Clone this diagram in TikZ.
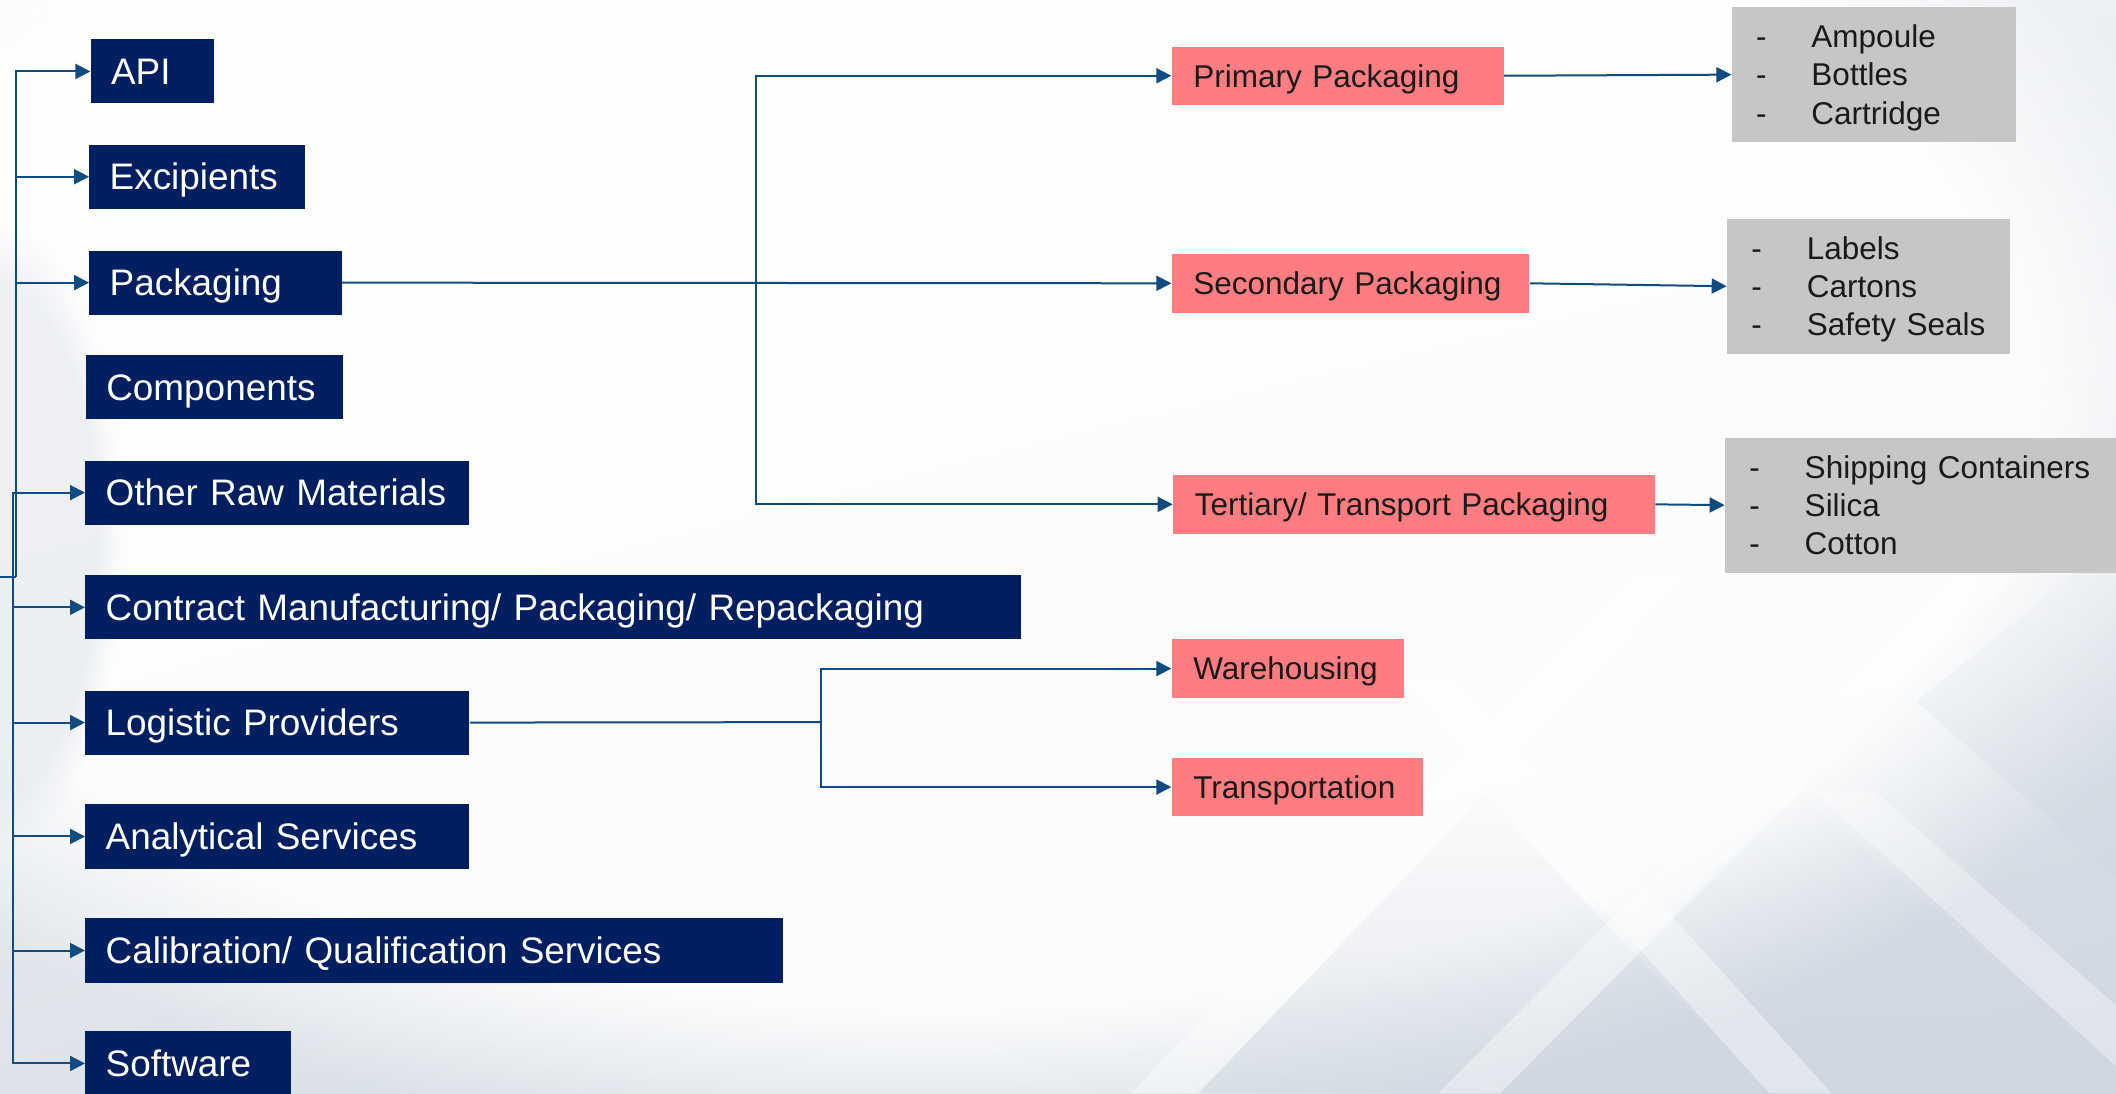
\documentclass[tikz,border=0pt]{standalone}
\usepackage{fontspec}
\setmainfont{Liberation Sans}
\usetikzlibrary{arrows.meta,fadings,shadings}
\hyphenpenalty=10000
\exhyphenpenalty=10000

\definecolor{navy}{RGB}{0,31,96}
\definecolor{salmon}{RGB}{255,124,128}
\definecolor{listgray}{RGB}{198,198,198}
\definecolor{wire}{RGB}{16,76,128}
\definecolor{ink}{RGB}{26,26,26}
\definecolor{bgTL}{RGB}{248,249,251}
\definecolor{bgTR}{RGB}{236,239,243}
\definecolor{bgBL}{RGB}{222,227,233}
\definecolor{bgBR}{RGB}{206,214,224}

% opaque at the bottom, clear at the top
\tikzfading[name=riseup, top color=transparent!100, bottom color=transparent!0]

% one list entry: a dash, then the item
\newcommand\listitem[1]{\makebox[27.7pt][l]{-}#1}

\tikzset{
  conn/.style={draw=wire, line width=1pt},
  arr/.style={conn, -{Triangle[length=7.5pt,width=7.5pt]}},
  boxbase/.style={anchor=north west, inner ysep=0pt, align=left},
  mainbox/.style={boxbase, fill=navy, text=white,
    font=\fontsize{18.45}{22}\selectfont,
    inner xsep=10.12pt, minimum height=32.05pt,
    text height=13.2pt, text depth=0pt,
    /utils/exec={\pgfmathsetlengthmacro\boxtw{#1*0.6748pt-20.24pt}},
    text width=\boxtw},
  pinkbox/.style={boxbase, fill=salmon, text=ink,
    font=\fontsize{15.75}{19.1}\selectfont,
    inner xsep=10.8pt, minimum height=29.2pt,
    text height=11.3pt, text depth=0pt,
    /utils/exec={\pgfmathsetlengthmacro\boxtw{#1*0.6748pt-21.6pt}},
    text width=\boxtw},
  listbox/.style={boxbase, fill=listgray, text=ink,
    font=\fontsize{15.75}{19.1}\selectfont,
    inner xsep=12.15pt, minimum height=67.5pt,
    text height=11.3pt, text depth=38.2pt,
    /utils/exec={\pgfmathsetlengthmacro\boxtw{#1*0.6748pt-24.3pt}},
    text width=\boxtw},
}

\begin{document}
\begin{tikzpicture}[x=0.6748pt, y=-0.6748pt]
\useasboundingbox (0,0) rectangle (1568,810);
\clip (0,0) rectangle (1568,810);

% ---- background: soft grey gradient with light diagonal glass streaks
\shade[upper left=bgTL, upper right=bgTR, lower left=bgBL, lower right=bgBR]
  (0,0) rectangle (1568,810);
\fill[white, opacity=0.9, path fading=circle with fuzzy edge 20 percent]
  (700,300) ellipse (1000 and 560);
\fill[bgBL, opacity=0.5, path fading=circle with fuzzy edge 20 percent]
  (0,400) ellipse (90 and 230);
\fill[bgBR, opacity=0.5, path fading=riseup] (888,810) -- (1099,590) -- (1311,810) -- cycle;
\fill[bgBR, opacity=0.45, path fading=riseup] (1112,810) -- (1330,585) -- (1568,790) -- (1568,810) -- cycle;
\fill[bgBR, opacity=0.35, path fading=riseup] (1420,520) -- (1568,400) -- (1568,650) -- cycle;
\fill[white, opacity=0.4] (838,810) -- (888,810) -- (1258,423) -- (1208,423) -- cycle;
\fill[white, opacity=0.4] (1066,810) -- (1112,810) -- (1496,423) -- (1450,423) -- cycle;
\fill[white, opacity=0.4] (1032,500) -- (1078,500) -- (1357,810) -- (1311,810) -- cycle;
\fill[white, opacity=0.35] (1345,587) -- (1390,587) -- (1568,745) -- (1568,790) -- cycle;

% ---- categories
\node[mainbox=91.5]  (api) at (67,28.9)   {API};
\node[mainbox=160]   (exc) at (66,106.9)  {Excipients};
\node[mainbox=187]   (pkg) at (66,185.4)  {Packaging};
\node[mainbox=190]   (cmp) at (63.5,263)  {Components};
\node[mainbox=284.5] (orm) at (63,341)    {Other Raw Materials};
\node[mainbox=693.5] (cmo) at (63,426)    {Contract Manufacturing/ Packaging/ Repackaging};
\node[mainbox=284.5] (lgp) at (63,511.4)  {Logistic Providers};
\node[mainbox=284.5] (ans) at (63,595.8)  {Analytical Services};
\node[mainbox=517]   (cal) at (63,680.3)  {Calibration/ Qualification Services};
\node[mainbox=152.5] (sfw) at (63,764)    {Software};

% ---- packaging levels and logistics
\node[pinkbox=246] (pri) at (868,34.2)  {Primary Packaging};
\node[pinkbox=265] (sec) at (868,188)   {Secondary Packaging};
\node[pinkbox=357] (ter) at (869,351.8) {Tertiary/ Transport Packaging};
\node[pinkbox=172] (whs) at (868,473.5) {Warehousing};
\node[pinkbox=186] (trn) at (868,561.3) {Transportation};

% ---- examples
\node[listbox=210.5] (ex1) at (1283,5)
  {\listitem{Ampoule}\\\listitem{Bottles}\\\listitem{Cartridge}};
\node[listbox=210]   (ex2) at (1279.5,161.8)
  {\listitem{Labels}\\\listitem{Cartons}\\\listitem{Safety~Seals}};
\node[listbox=289.5] (ex3) at (1278,324)
  {\listitem{Shipping~Containers}\\\listitem{Silica}\\\listitem{Cotton}};

% ---- left bus
\coordinate (in)  at (0,427.5);
\coordinate (bus) at (11.5,427.5);
\coordinate (low) at (10,427.5);
\draw[conn] (in) -- (bus);
\draw[arr] (bus) |- (api.west);
\draw[arr] (bus) |- (exc.west);
\draw[arr] (bus) |- (pkg.west);
\draw[arr] (low) |- (orm.west);
\draw[arr] (low) |- (cmo.west);
\draw[arr] (low) |- (lgp.west);
\draw[arr] (low) |- (ans.west);
\draw[arr] (low) |- (cal.west);
\draw[arr] (low) |- (sfw.west);

% ---- packaging branches
\coordinate (pb) at (560,209.2);
\draw[arr] (pkg.east) -- (sec.west);
\draw[arr] (pb) |- (pri.west);
\draw[arr] (pb) |- (ter.west);

% ---- logistics branches
\coordinate (lb) at (608,535.1);
\draw[conn] (lgp.east) -- (lb);
\draw[arr] (lb) |- (whs.west);
\draw[arr] (lb) |- (trn.west);

% ---- examples
\draw[arr] (pri.east) -- (ex1.west);
\draw[arr] (sec.east) -- (ex2.west);
\draw[arr] (ter.east) -- (ex3.west);
\end{tikzpicture}
\end{document}
